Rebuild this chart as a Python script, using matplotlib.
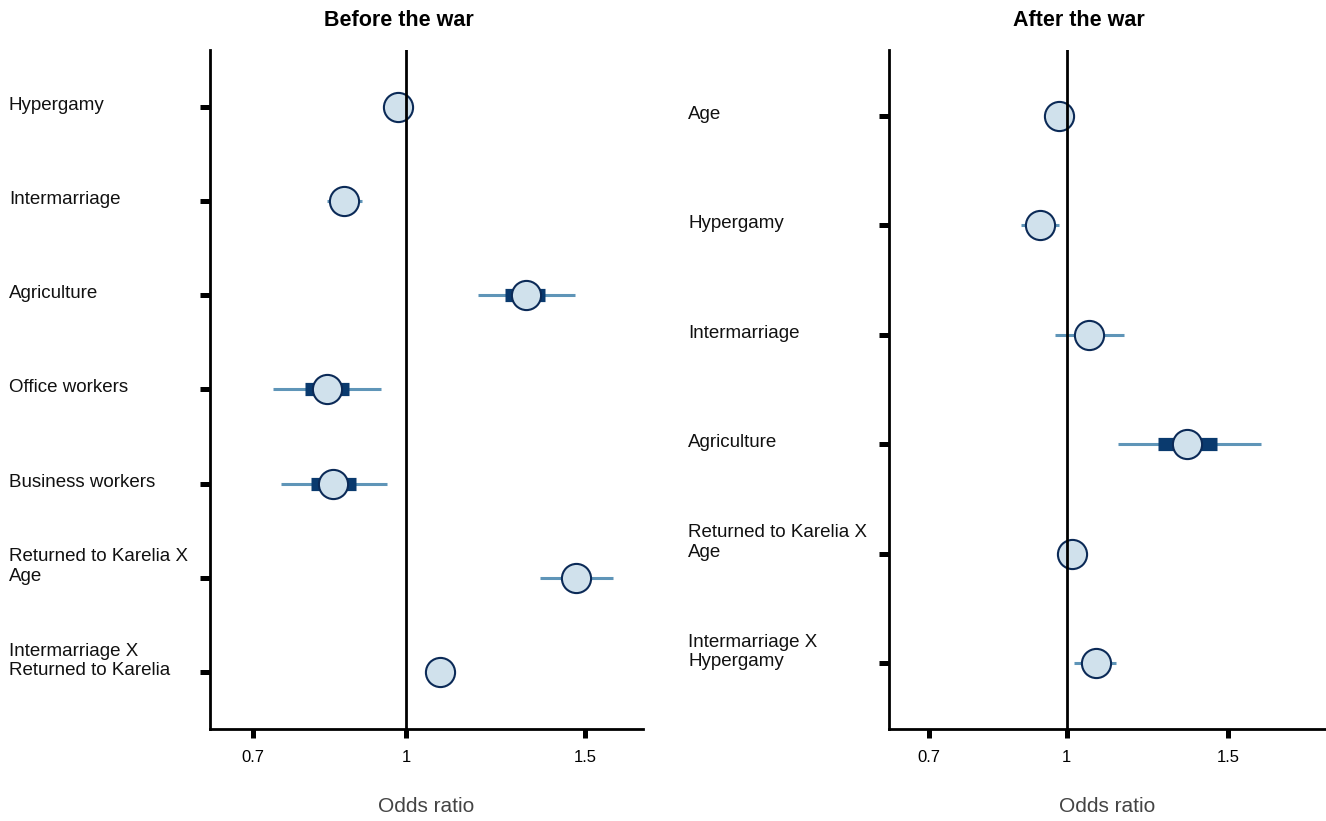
import matplotlib
matplotlib.use('Agg')
import matplotlib.pyplot as plt
import matplotlib.transforms as mtransforms

plt.rcParams['font.family'] = ['Liberation Sans', 'DejaVu Sans']

# Before the war
before_labels = ['Hypergamy', 'Intermarriage', 'Agriculture', 'Office workers',
                 'Business workers', 'Returned to Karelia X\nAge',
                 'Intermarriage X\nReturned to Karelia']
before_or = [0.983, 0.870, 1.313, 0.836, 0.848, 1.470, 1.081]
before_lo = [0.960, 0.837, 1.177, 0.741, 0.754, 1.355, 1.050]
before_hi = [1.007, 0.905, 1.467, 0.945, 0.959, 1.597, 1.112]
before_ilo = [0.972, 0.855, 1.252, 0.795, 0.807, 1.430, 1.066]
before_ihi = [0.995, 0.887, 1.371, 0.880, 0.893, 1.512, 1.097]

# After the war
after_labels = ['Age', 'Hypergamy', 'Intermarriage', 'Agriculture',
                'Returned to Karelia X\nAge', 'Intermarriage X\nHypergamy']
after_or = [0.981, 0.934, 1.058, 1.353, 1.013, 1.076]
after_lo = [0.965, 0.891, 0.971, 1.138, 0.995, 1.018]
after_hi = [0.997, 0.980, 1.155, 1.627, 1.031, 1.132]
after_ilo = [0.973, 0.912, 1.030, 1.256, 1.004, 1.050]
after_ihi = [0.989, 0.957, 1.087, 1.457, 1.022, 1.100]

tick_vals = [2 ** -0.5, 1, 1.5]
tick_labels = ['0.7', '1', '1.5']

fig = plt.figure(figsize=(13.26, 8.21), dpi=100)
ax1 = fig.add_axes([0.1584, 0.1121, 0.3265, 0.8270])
ax2 = fig.add_axes([0.6704, 0.1121, 0.3288, 0.8270])


def forest(ax, labels, est, lo, hi, ilo, ihi, xlim, label_x, title, title_x):
    n = len(labels)
    ys = list(range(1, n + 1))
    ax.set_xscale('log')
    ax.hlines(ys, lo, hi, color='#5f95b8', lw=2.2, zorder=2)
    ax.hlines(ys, ilo, ihi, color='#0a3a6e', lw=9.5, zorder=3, capstyle='butt')
    ax.plot(est, ys, 'o', ms=21, mfc='#d0e1ec', mec='#0b2a57', mew=1.5, zorder=4)
    ax.axvline(1, color='black', lw=2, zorder=5)
    ax.set_xlim(*xlim)
    ax.set_ylim(n + 0.6, 0.4)
    ax.set_xticks(tick_vals)
    ax.set_xticklabels(tick_labels)
    ax.minorticks_off()
    ax.set_yticks(ys)
    ax.set_yticklabels([])
    for s in ['top', 'right']:
        ax.spines[s].set_visible(False)
    for s in ['left', 'bottom']:
        ax.spines[s].set_linewidth(2)
    ax.tick_params(axis='y', length=7.2, width=3.6)
    ax.tick_params(axis='x', length=6.5, width=3.6, pad=9, labelsize=12)
    ax.set_xlabel('Odds ratio', fontsize=15, color='#444444', labelpad=23)
    trans = mtransforms.blended_transform_factory(fig.transFigure, ax.transData)
    trans = mtransforms.offset_copy(trans, fig=fig, x=0, y=-7, units='dots')
    for y, lab in zip(ys, labels):
        ax.text(label_x, y, lab, transform=trans, ha='left', va='bottom',
                fontsize=13.5, color='#111111')
    fig.text(title_x, 1 - 20 / 821, title, ha='center', va='center',
             fontsize=15.5, fontweight='bold')


forest(ax1, before_labels, before_or, before_lo, before_hi, before_ilo, before_ihi,
       (0.642, 1.710), 9 / 1326, 'Before the war', 399 / 1326)
forest(ax2, after_labels, after_or, after_lo, after_hi, after_ilo, after_ihi,
       (0.640, 1.911), 688 / 1326, 'After the war', 1079 / 1326)

fig.savefig('out.png', dpi=100)
